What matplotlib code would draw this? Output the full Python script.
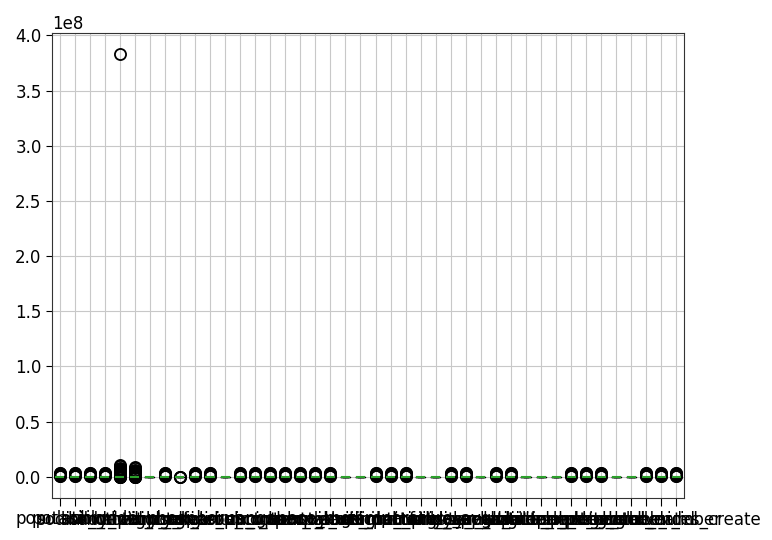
import matplotlib
matplotlib.use("Agg")
import matplotlib.pyplot as plt
import pandas as pd

# column names (x tick labels)
columns = [
    "population", "potassium", "sodium_total", "chloride", "soil_depth_cm",
    "body_weight_kg", "calcium_ratio", "height_mean", "nitrogen_level", "phosphorus",
    "sulfate_ppm", "magnesium_index", "carbon_total", "iron_content", "zinc_count",
    "manganese_mg", "copper_value", "boron_level", "sample_weight", "moisture_pct",
    "organic_matter", "aluminium_mg", "silicon_ratio", "conductivity_us",
    "temperature_avg", "rainfall_yearly", "humidity_max", "pressure_hpa",
    "wind_speed_mean", "solar_radiation", "evaporation_mm", "altitude_m",
    "longitude_deg", "latitude_deg", "slope_percent", "aspect_angle",
    "cluster_label", "plot_number", "site_code_id", "observer_id",
    "batch_number", "record_dates_create",
]

# value groups, one per box shape seen in the chart
typical = [0, 0, 0, 0, 0, 0, 0, 0, 0, 0, 0, 0, 0, 0, 0, 0,
           150, 300, 600, 2.0e5, 6.0e5, 1.1e6, 1.7e6, 2.4e6, 3.1e6, 3.6e6]
tall_a = [0, 0, 0, 0, 0, 0, 0, 0, 0, 0, 0, 0, 0, 0, 0, 0, 0, 0, 0, 0,
          0, 0, 0, 0, 0, 0, 0, 0, 0, 0, 0, 0, 0, 0, 0, 0, 0, 0, 0, 0,
          0, 0, 0, 0, 0, 0, 0, 0, 200, 400, 800,
          3.0e5, 9.0e5, 1.6e6, 2.3e6, 3.1e6, 4.0e6, 5.0e6,
          6.1e6, 7.2e6, 8.3e6, 9.4e6, 1.05e7, 3.83e8]
tall_b = [0, 0, 0, 0, 0, 0, 0, 0, 0, 0, 0, 0, 0, 0, 0, 0, 0, 0, 0, 0,
          0, 0, 0, 0, 0, 0, 0, 0, 0, 0, 0, 0, 0, 0, 0, 0, 0, 0, 0, 0,
          200, 400, 800,
          3.0e5, 9.0e5, 1.6e6, 2.4e6, 3.3e6, 4.3e6, 5.4e6,
          6.5e6, 7.6e6, 8.6e6]
single = [0, 0, 0, 0, 0, 0, 0, 0, 0, 0, 0, 0, 10, 20, 3.0e5]
constant = [0, 0, 0, 0, 0, 0, 0, 0]

# which group each column uses
kinds = ["t", "t", "t", "t", "a", "b", "c", "t", "s", "t",
         "t", "c", "t", "t", "t", "t", "t", "t", "t", "c",
         "c", "t", "t", "t", "c", "c", "t", "t", "c", "t",
         "t", "c", "c", "c", "t", "t", "t", "c", "c", "t",
         "t", "t"]
groups = {"t": typical, "a": tall_a, "b": tall_b, "s": single, "c": constant}

df = pd.DataFrame({name: pd.Series(groups[k]) for name, k in zip(columns, kinds)})

plt.rcParams["font.size"] = 12
fig = plt.figure(figsize=(7.72, 5.40), dpi=100)
ax = fig.add_axes([52 / 772, 42 / 540, 632 / 772, 465 / 540])

data = [df[c].dropna().values for c in columns]
ax.boxplot(data, tick_labels=columns, widths=0.6,
           boxprops=dict(color="black"),
           whiskerprops=dict(color="black"),
           capprops=dict(color="black"),
           medianprops=dict(color="#2ca02c", linewidth=1.5),
           flierprops=dict(marker="o", markeredgecolor="black", markerfacecolor="none",
                           markersize=8, markeredgewidth=1.3))
ax.grid(True, color="#c8c8c8")
ax.set_axisbelow(True)
ax.tick_params(axis="x", length=6, pad=3)
ax.tick_params(axis="y", length=4)
for s in ax.spines.values():
    s.set_color("#333333")

fig.savefig("out.png", dpi=100)
